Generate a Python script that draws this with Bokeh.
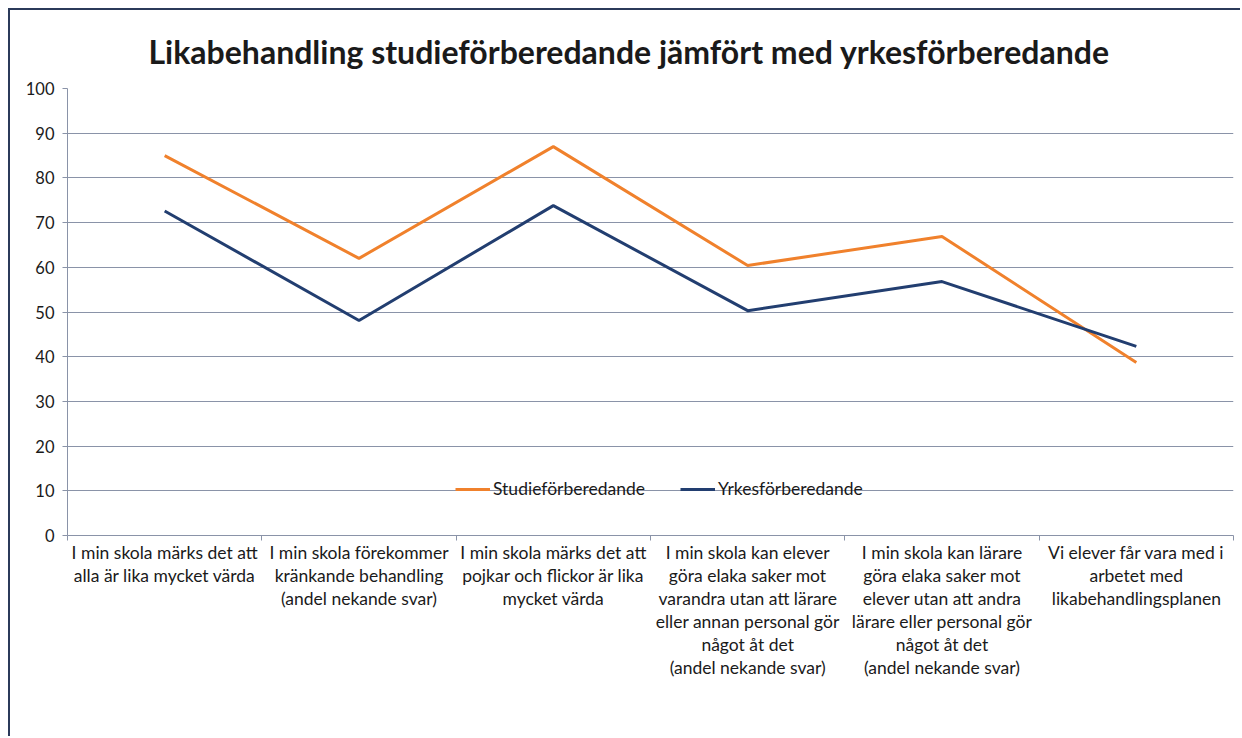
from bokeh.plotting import figure
from bokeh.models import FixedTicker, Range1d, Legend, LegendItem, ColumnDataSource
from bokeh.embed import file_html
from bokeh.resources import INLINE

title_text = "Likabehandling studieförberedande jämfört med  yrkesförberedande"
categories = [
    "I min skola märks det att\nalla är lika mycket värda",
    "I min skola förekommer\nkränkande behandling\n(andel nekande svar)",
    "I min skola märks det att\npojkar och flickor är lika\nmycket värda",
    "I min skola kan elever\ngöra elaka saker mot\nvarandra utan att lärare\neller annan personal gör\nnågot åt det\n(andel nekande svar)",
    "I min skola kan lärare\ngöra elaka saker mot\nelever utan att andra\nlärare eller personal gör\nnågot åt det\n(andel nekande svar)",
    "Vi elever får vara med i\narbetet med\nlikabehandlingsplanen",
]
studie = [85.0, 62.0, 87.0, 60.4, 66.9, 38.7]
yrkes = [72.6, 48.1, 73.8, 50.3, 56.8, 42.3]
series_names = ["Studieförberedande", "Yrkesförberedande"]
y_ticks = [0, 10, 20, 30, 40, 50, 60, 70, 80, 90, 100]

FONT = "Lato"
GRID = "#8a93a8"
xs = list(range(1, len(categories) + 1))

p = figure(width=1232, height=728, output_backend="svg", toolbar_location=None,
           x_range=Range1d(0.5, len(categories) + 0.5), y_range=Range1d(0, 100),
           min_border_left=57, min_border_right=9, min_border_top=78, min_border_bottom=203)
p.styles = {"border-left": "2px solid #2b3a5a", "border-top": "2px solid #2b3a5a",
            "margin-left": "8px", "margin-top": "8px"}
p.outline_line_color = None
p.background_fill_color = "white"
p.border_fill_color = "white"

p.title.text = title_text
p.title.align = "left"
p.title.text_font = FONT
p.title.text_font_style = "bold"
p.title.text_font_size = "32px"
p.title.text_color = "#1a1a1a"
p.title.offset = 81
p.title.standoff = 36

src = ColumnDataSource(dict(x=xs, s=studie, y=yrkes))
r1 = p.line("x", "s", source=src, line_color="#f0812c", line_width=3)
r2 = p.line("x", "y", source=src, line_color="#223e70", line_width=3)

# y axis
p.yaxis.ticker = FixedTicker(ticks=y_ticks)
p.yaxis.minor_tick_line_color = None
p.yaxis.major_tick_in = 0
p.yaxis.major_tick_out = 5
p.yaxis.major_label_standoff = 8
p.yaxis.axis_line_color = GRID
p.yaxis.major_tick_line_color = GRID
p.yaxis.major_label_text_font = FONT
p.yaxis.major_label_text_font_size = "16.5px"
p.yaxis.major_label_text_color = "#1a1a1a"

# x axis: labels at centers, ticks at category boundaries
p.xaxis.ticker = FixedTicker(ticks=xs, minor_ticks=[i + 0.5 for i in range(len(categories) + 1)])
p.xaxis.major_label_overrides = {i + 1: c for i, c in enumerate(categories)}
p.xaxis.major_tick_line_color = None
p.xaxis.minor_tick_line_color = GRID
p.xaxis.minor_tick_in = 0
p.xaxis.minor_tick_out = 5
p.xaxis.axis_line_color = GRID
p.xaxis.major_label_standoff = 0
p.xaxis.major_label_text_font = FONT
p.xaxis.major_label_text_font_size = "17.5px"
p.xaxis.major_label_text_color = "#1a1a1a"
p.xaxis.major_label_text_line_height = 1.1

p.xgrid.grid_line_color = None
p.ygrid.ticker = FixedTicker(ticks=y_ticks)
p.ygrid.grid_line_color = GRID
p.ygrid.grid_line_width = 1

legend = Legend(items=[LegendItem(label=series_names[0], renderers=[r1]),
                       LegendItem(label=series_names[1], renderers=[r2])],
                orientation="horizontal", location=(388, 36),
                background_fill_alpha=0, border_line_alpha=0,
                padding=0, margin=0, spacing=35, glyph_width=35, label_standoff=3,
                label_text_font=FONT, label_text_font_size="17.5px", label_text_color="#1a1a1a",
                label_height=20, glyph_height=20)
p.add_layout(legend, "center")

open("out.html", "w").write(file_html(p, INLINE))
